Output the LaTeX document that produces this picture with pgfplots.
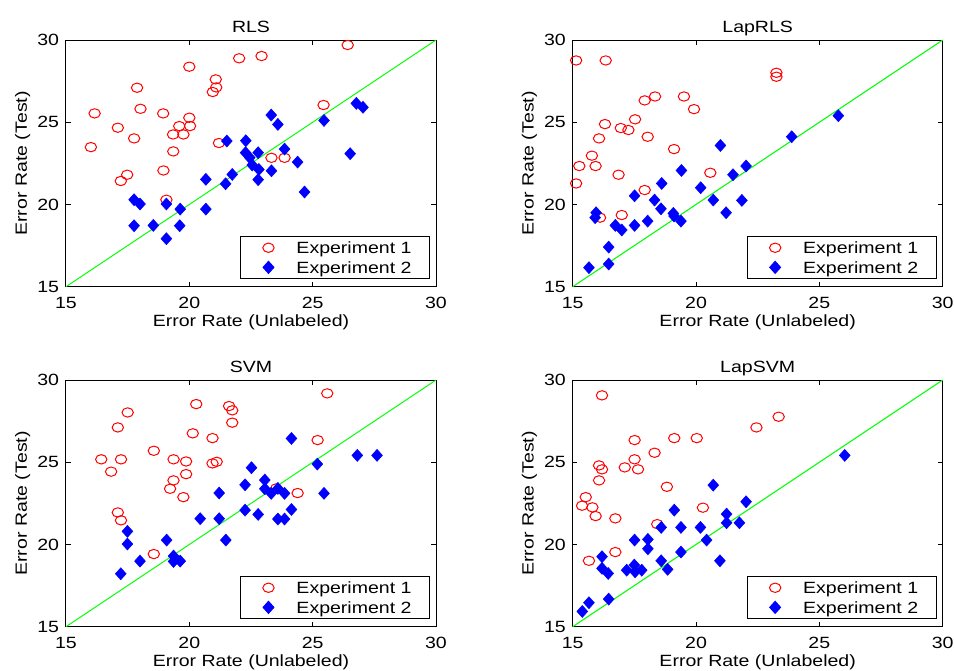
\documentclass[border=0pt]{standalone}
\usepackage{fontspec}
\setmainfont{Liberation Sans}[FakeStretch=1.2]
\usepackage{pgfplots}
\pgfplotsset{compat=1.18}
\newcommand{\lblfont}{\fontsize{12.2}{14}\selectfont}
\pgfplotsset{
  panel/.style={
    scale only axis, width=277.5pt, height=185pt,
    xmin=15, xmax=30, ymin=15, ymax=30,
    xtick={15,20,25,30}, ytick={15,20,25,30},
    tick align=inside, major tick length=3.6pt,
    axis line style={line width=0.75pt, black},
    major tick style={line width=0.75pt, black},
    /pgf/number format/assume math mode=true,
    clip=false,
    tick label style={font=\lblfont},
    xticklabel style={anchor=base, yshift=-16.2pt, inner sep=0pt},
    yticklabel style={anchor=east, inner sep=0pt, xshift=-5pt},
    every axis title shift=0pt,
    title style={font=\lblfont, anchor=base, at={(axis description cs:0.5,1)}, yshift=5.5pt},
    xlabel={Error Rate (Unlabeled)}, ylabel={Error Rate (Test)},
    xlabel style={font=\lblfont, at={(axis description cs:0.5,0)}, anchor=base, yshift=-30pt},
    ylabel style={font=\lblfont, at={([xshift=-29.25pt]axis description cs:0,0.5)}, anchor=base, rotate=0},
    legend style={at={(1,0)}, anchor=south east, xshift=-4.5pt, yshift=5.8pt,
      draw=black, line width=0.75pt, fill=white, font=\lblfont,
      inner xsep=13.5pt, inner ysep=1pt, row sep=0pt,
      nodes={inner sep=0pt, text depth=0pt},
      cells={anchor=west}},
    legend image code/.code={\path[draw=none, fill=none] (-7.5pt,-7.35pt) rectangle (21pt,7.35pt);
      \draw[#1] plot coordinates {(0pt,0pt)};},
  },
  e1/.style={only marks, mark=o, red, mark size=3.5pt, line width=0.75pt, mark options={xscale=1.22, line width=0.75pt}},
  e2/.style={only marks, mark=diamond*, blue, mark size=4.5pt, mark options={xscale=1.2, fill=blue, draw=blue}},
  diag/.style={green, line width=0.75pt, forget plot},
}
\begin{document}
\begin{tikzpicture}
\path[use as bounding box] (0,0) rectangle (715.5pt,503.25pt);

% ---------- RLS ----------
\begin{axis}[panel, at={(49.5pt,288.2pt)}, anchor=south west, title={RLS}]
\addplot[e1] coordinates {(26.42,29.70)(22.93,29.03)(22.02,28.89)(20.00,28.38)(21.07,27.61)(21.09,27.12)(20.95,26.84)(17.88,27.10)(18.02,25.82)(16.16,25.54)(18.94,25.54)(25.44,26.05)(20.00,25.28)(20.03,24.77)(19.59,24.77)(17.10,24.67)(19.34,24.26)(19.76,24.26)(17.76,24.02)(16.01,23.49)(19.35,23.23)(21.20,23.74)(23.33,22.84)(23.86,22.84)(18.95,22.07)(17.48,21.81)(17.22,21.43)(19.07,20.29)};
\addlegendentry{Experiment 1}
\addplot[e2] coordinates {(26.77,26.15)(27.04,25.91)(23.32,25.44)(23.59,24.87)(25.46,25.11)(21.52,23.86)(22.29,23.88)(22.28,23.15)(22.79,23.15)(22.45,22.85)(23.86,23.37)(26.52,23.09)(22.55,22.40)(22.82,22.13)(23.33,22.05)(22.79,21.51)(24.39,22.58)(21.74,21.83)(21.47,21.26)(20.67,21.53)(24.67,20.76)(17.76,20.29)(18.00,20.03)(19.07,20.03)(19.63,19.72)(20.67,19.72)(17.76,18.71)(18.54,18.73)(19.61,18.71)(19.07,17.92)};
\addlegendentry{Experiment 2}
\addplot[diag] coordinates {(15,15)(30,30)};
\end{axis}

% ---------- LapRLS ----------
\begin{axis}[panel, at={(429.5pt,288.2pt)}, anchor=south west, title={LapRLS}]
\addplot[e1] coordinates {(15.14,28.76)(16.34,28.76)(23.26,28.01)(23.26,27.77)(18.34,26.57)(17.92,26.33)(19.51,26.57)(19.92,25.80)(16.31,24.89)(17.53,25.18)(16.95,24.65)(17.26,24.53)(16.07,24.02)(18.04,24.12)(19.11,23.37)(15.78,22.97)(15.27,22.34)(15.93,22.34)(16.86,21.81)(20.58,21.93)(15.14,21.28)(17.92,20.88)(16.99,19.36)(16.11,19.20)};
\addlegendentry{Experiment 1}
\addplot[e2] coordinates {(25.77,25.40)(23.88,24.12)(20.99,23.59)(19.41,22.07)(22.03,22.34)(21.50,21.81)(18.61,21.28)(20.19,21.02)(17.51,20.53)(18.32,20.27)(18.58,19.74)(20.70,20.27)(21.86,20.25)(15.95,19.50)(15.91,19.20)(19.08,19.46)(19.11,19.30)(19.39,18.99)(21.22,19.50)(18.04,18.99)(17.51,18.73)(16.73,18.73)(16.99,18.45)(16.46,17.41)(15.66,16.16)(16.46,16.38)};
\addlegendentry{Experiment 2}
\addplot[diag] coordinates {(15,15)(30,30)};
\end{axis}

% ---------- SVM ----------
\begin{axis}[panel, at={(49.5pt,33.2pt)}, anchor=south west, title={SVM}]
\addplot[e1] coordinates {(25.59,29.19)(20.28,28.54)(17.50,28.03)(21.61,28.42)(21.74,28.16)(21.74,27.41)(17.10,27.12)(20.14,26.76)(20.94,26.47)(25.20,26.35)(18.56,25.70)(16.43,25.18)(17.23,25.18)(19.36,25.18)(19.87,25.05)(20.94,24.93)(21.11,25.03)(16.83,24.43)(19.87,24.28)(19.36,23.90)(19.22,23.39)(19.76,22.88)(23.52,23.41)(24.39,23.13)(17.10,21.95)(17.23,21.47)(18.56,19.42)};
\addlegendentry{Experiment 1}
\addplot[e2] coordinates {(24.14,26.45)(26.81,25.42)(27.61,25.42)(25.19,24.89)(22.52,24.67)(23.06,23.92)(22.26,23.63)(23.06,23.39)(23.59,23.41)(23.32,23.11)(23.86,23.11)(25.46,23.11)(21.21,23.13)(22.26,22.09)(22.79,21.83)(24.14,22.13)(23.59,21.55)(23.86,21.55)(20.44,21.57)(21.21,21.57)(17.49,20.80)(17.49,20.03)(19.08,20.27)(21.48,20.27)(19.36,19.30)(19.36,18.97)(19.63,18.99)(18.00,18.99)(17.22,18.22)};
\addlegendentry{Experiment 2}
\addplot[diag] coordinates {(15,15)(30,30)};
\end{axis}

% ---------- LapSVM ----------
\begin{axis}[panel, at={(429.5pt,33.2pt)}, anchor=south west, title={LapSVM}]
\addplot[e1] coordinates {(16.19,29.07)(23.35,27.77)(22.45,27.12)(17.51,26.35)(19.12,26.47)(20.03,26.47)(18.32,25.58)(17.51,25.18)(16.07,24.81)(16.19,24.57)(17.11,24.69)(17.65,24.57)(16.07,23.90)(18.82,23.51)(15.53,22.88)(15.38,22.36)(15.80,22.26)(15.93,21.73)(16.73,21.59)(20.28,22.24)(18.43,21.24)(16.73,19.54)(15.66,19.01)};
\addlegendentry{Experiment 1}
\addplot[e2] coordinates {(26.03,25.42)(20.70,23.61)(22.03,22.60)(19.12,22.09)(21.24,21.85)(21.24,21.32)(21.76,21.32)(18.59,21.04)(19.39,21.04)(20.18,21.04)(20.43,20.27)(17.51,20.27)(18.05,20.31)(18.05,19.74)(19.39,19.54)(16.19,19.26)(18.59,19.01)(20.97,19.01)(16.19,18.55)(16.44,18.24)(17.19,18.44)(17.50,18.75)(17.53,18.34)(17.80,18.44)(18.85,18.49)(16.46,16.68)(15.66,16.46)(15.39,15.93)};
\addlegendentry{Experiment 2}
\addplot[diag] coordinates {(15,15)(30,30)};
\end{axis}
\end{tikzpicture}
\end{document}
